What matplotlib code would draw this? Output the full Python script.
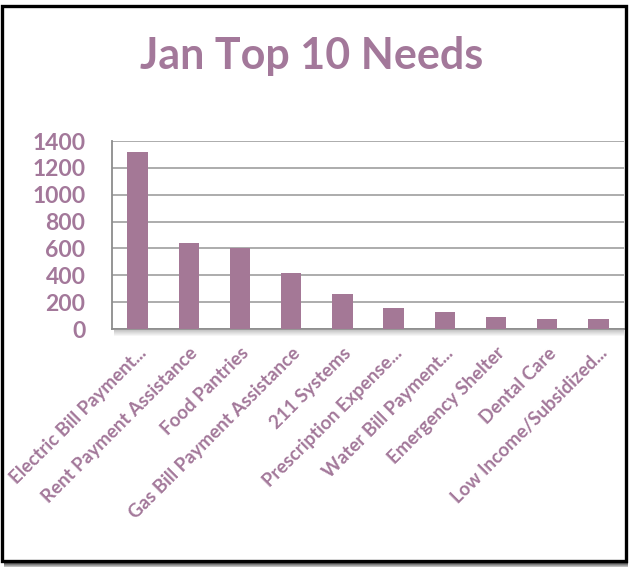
import matplotlib
matplotlib.use('agg')
import matplotlib.pyplot as plt
from matplotlib.patches import Rectangle
import numpy as np

categories = ['Electric Bill Payment...', 'Rent Payment Assistance', 'Food Pantries',
              'Gas Bill Payment Assistance', '211 Systems', 'Prescription Expense...',
              'Water Bill Payment...', 'Emergency Shelter', 'Dental Care',
              'Low Income/Subsidized...']
values = [1320, 642, 600, 420, 262, 154, 124, 86, 76, 76]
yticks = [0, 200, 400, 600, 800, 1000, 1200, 1400]

MAUVE = '#A47896'
TEXT = '#A3789A'
GRID = '#A6A6A6'
W, H = 634, 567

plt.rcParams['font.family'] = ['Lato', 'DejaVu Sans']

fig = plt.figure(figsize=(W / 100, H / 100), dpi=100)
ax = fig.add_axes([112 / W, 1 - 329 / H, 512 / W, 188 / H])

x = np.arange(len(categories))
ax.bar(x, values, width=0.4, color=MAUVE, zorder=3)
ax.set_xlim(-0.5, len(categories) - 0.5)
ax.set_ylim(0, 1400)
ax.set_yticks(yticks)
ax.set_yticklabels([str(t) for t in yticks], fontsize=16.5, fontweight='bold', color=TEXT)
ax.yaxis.grid(True, color=GRID, linewidth=1.3, zorder=0)
ax.tick_params(axis='y', length=0, pad=19)
ax.set_xticks(x)
ax.set_xticklabels(categories, rotation=45, ha='right', rotation_mode='anchor',
                   fontsize=13.5, fontweight='bold', color=TEXT)
ax.tick_params(axis='x', length=0, pad=11)
for s in ['top', 'right']:
    ax.spines[s].set_visible(False)
for s in ['left', 'bottom']:
    ax.spines[s].set_color('#8C8C8C')
    ax.spines[s].set_linewidth(1.3)

# soft shadow under the plot area
for i in range(6):
    fig.patches.append(Rectangle((114 / W, 1 - (331 + i) / H), 510 / W, 1 / H,
                                 transform=fig.transFigure, color='black',
                                 alpha=0.22 * (1 - i / 6), lw=0, zorder=0))

fig.text(312 / W, 1 - 69 / H, 'Jan Top 10 Needs', ha='center', va='baseline',
         fontsize=31, fontweight='bold', color=TEXT)

# picture frame with shadow
for i in range(6):
    fig.patches.append(Rectangle((4 / W, 1 - (562 + i) / H), 624 / W, 1 / H,
                                 transform=fig.transFigure, color='black',
                                 alpha=0.9 * (1 - i / 7), lw=0, zorder=5))
fig.patches.append(Rectangle((1.5 / W, 1 - 561 / H), 624.5 / W, 555.5 / H,
                             transform=fig.transFigure, fill=False,
                             edgecolor='black', lw=2.4, zorder=6))

fig.savefig('out.png', dpi=100)
